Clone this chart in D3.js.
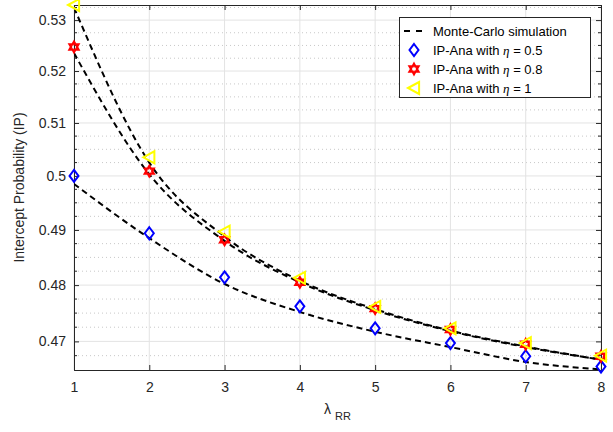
<!DOCTYPE html>
<html>
<head>
<meta charset="utf-8">
<script src="https://cdn.jsdelivr.net/npm/d3@7"></script>
<style>
  body { margin: 0; background: #fff; }
  svg { font-family: "Liberation Sans", Arial, sans-serif; }
  .tick-label { font-size: 14px; fill: #262626; }
  .axis-title { font-size: 14px; fill: #262626; }
  .legend-text { font-size: 13px; fill: #000; }
</style>
</head>
<body>
<svg id="chart" width="613" height="432"></svg>
<script>
// lambda_RR values (x axis)
const lambdaRR = [1, 2, 3, 4, 5, 6, 7, 8];

// Monte-Carlo simulation curves (dashed)
const mcEta05 = [0.4985, 0.4885, 0.4802, 0.4752, 0.4717, 0.4690, 0.4664, 0.4651];
const mcEta08 = [0.5235, 0.5003, 0.4880, 0.4805, 0.4755, 0.4718, 0.4690, 0.4668];
const mcEta1  = [0.5325, 0.5025, 0.4888, 0.4808, 0.4757, 0.4719, 0.4691, 0.4668];

// analytical markers
const anaEta05 = [0.5000, 0.4894, 0.4814, 0.4762, 0.4723, 0.4697, 0.4674, 0.4656];
const anaEta08 = [0.5247, 0.5009, 0.4882, 0.4805, 0.4758, 0.4721, 0.4695, 0.4674];
const anaEta1  = [0.5330, 0.5035, 0.4897, 0.4813, 0.4761, 0.4723, 0.4697, 0.4675];

// ticks
const xTicks = [1, 2, 3, 4, 5, 6, 7, 8];
const yTicks = [0.47, 0.48, 0.49, 0.5, 0.51, 0.52, 0.53];
const yMinorTicks = [0.4675, 0.4725, 0.475, 0.4775, 0.4825, 0.485, 0.4875, 0.4925, 0.495, 0.4975,
                     0.5025, 0.505, 0.5075, 0.5125, 0.515, 0.5175, 0.5225, 0.525, 0.5275, 0.5325];

const legendLabels = ["Monte-Carlo simulation", "IP-Ana with ", "IP-Ana with ", "IP-Ana with "];
const legendEta = [null, "0.5", "0.8", "1"];

const svg = d3.select("#chart");

// Plot area
const pLeft = 74, pRight = 601, pTop = 5, pBottom = 370;

const x = d3.scaleLinear().domain([1, 8]).range([pLeft, pRight]);
const y = d3.scaleLog().domain([0.465, 0.533]).range([pBottom, pTop]);

// clip for the curves
svg.append("defs").append("clipPath").attr("id", "clip")
  .append("rect").attr("x", pLeft).attr("y", pTop)
  .attr("width", pRight - pLeft).attr("height", pBottom - pTop);

// Minor dotted grid
svg.append("g").selectAll("line")
  .data(yMinorTicks).enter().append("line")
  .attr("x1", pLeft).attr("x2", pRight)
  .attr("y1", d => y(d)).attr("y2", d => y(d))
  .attr("stroke", "#c8c8c8").attr("stroke-width", 1)
  .attr("stroke-dasharray", "1,3");

// Major grid
svg.append("g").selectAll("line")
  .data(yTicks).enter().append("line")
  .attr("x1", pLeft).attr("x2", pRight)
  .attr("y1", d => y(d)).attr("y2", d => y(d))
  .attr("stroke", "#e3e3e3").attr("stroke-width", 1);
svg.append("g").selectAll("line")
  .data(xTicks).enter().append("line")
  .attr("x1", d => x(d)).attr("x2", d => x(d))
  .attr("y1", pTop).attr("y2", pBottom)
  .attr("stroke", "#e3e3e3").attr("stroke-width", 1);

// Axes with inward ticks
const axisColor = "#262626";
const axLeft = d3.axisLeft(y).tickValues(yTicks).tickSize(-5).tickFormat(d => String(+d.toFixed(2))).tickPadding(8);
const axRight = d3.axisRight(y).tickValues(yTicks).tickSize(-5).tickFormat("");
const axBottom = d3.axisBottom(x).tickValues(xTicks).tickSize(-5).tickFormat(d3.format("d")).tickPadding(12);
const axTop = d3.axisTop(x).tickValues(xTicks).tickSize(-5).tickFormat("");

function styleAxis(g) {
  g.select(".domain").attr("stroke", axisColor);
  g.selectAll(".tick line").attr("stroke", axisColor);
  g.selectAll(".tick text").attr("class", "tick-label").attr("font-family", null).attr("font-size", null);
}

svg.append("g").attr("transform", `translate(${pLeft},0)`).call(axLeft).call(styleAxis);
svg.append("g").attr("transform", `translate(${pRight},0)`).call(axRight).call(styleAxis);
svg.append("g").attr("transform", `translate(0,${pBottom})`).call(axBottom).call(styleAxis);
svg.append("g").attr("transform", `translate(0,${pTop})`).call(axTop).call(styleAxis);

// minor ticks left / right
[pLeft, pRight].forEach(px => {
  const dir = px === pLeft ? 1 : -1;
  svg.append("g").selectAll("line")
    .data(yMinorTicks).enter().append("line")
    .attr("x1", px).attr("x2", px + dir * 3)
    .attr("y1", d => y(d)).attr("y2", d => y(d))
    .attr("stroke", axisColor);
});

// Axis titles
svg.append("text")
  .attr("class", "axis-title")
  .attr("transform", `translate(24,${(pTop + pBottom) / 2}) rotate(-90)`)
  .attr("text-anchor", "middle")
  .text("Intercept Probability (IP)");

const xt = svg.append("text").attr("class", "axis-title")
  .attr("x", (pLeft + pRight) / 2).attr("y", 414).attr("text-anchor", "middle");
xt.append("tspan").text("λ");
xt.append("tspan").attr("dx", 4).attr("dy", 6).attr("font-size", 11).text("RR");

// Monte-Carlo dashed curves
const line = d3.line()
  .x((d, i) => x(lambdaRR[i]))
  .y(d => y(d))
  .curve(d3.curveMonotoneX);

[mcEta05, mcEta08, mcEta1].forEach(s => {
  svg.append("path")
    .datum(s)
    .attr("clip-path", "url(#clip)")
    .attr("fill", "none")
    .attr("stroke", "#000")
    .attr("stroke-width", 2)
    .attr("stroke-dasharray", "6,4")
    .attr("d", line);
});

// marker shapes
function diamondPath(r) {
  const w = r * 0.75;
  return `M0,${-r}L${w},0L0,${r}L${-w},0Z`;
}
function leftTriPath(r) {
  return `M${-r},0L${r * 0.85},${-r}L${r * 0.85},${r}Z`;
}
function hexagramPath(r) {
  const pts = [];
  const ri = r / Math.sqrt(3);
  for (let k = 0; k < 12; k++) {
    const a = -Math.PI / 2 + k * Math.PI / 6;
    const rr = k % 2 === 0 ? r : ri;
    pts.push([rr * Math.cos(a), rr * Math.sin(a)]);
  }
  return "M" + pts.map(p => p[0].toFixed(2) + "," + p[1].toFixed(2)).join("L") + "Z";
}

const markerSets = [
  { data: anaEta05, color: "#0000ff", path: diamondPath(6), sw: 2 },
  { data: anaEta08, color: "#ff0000", path: hexagramPath(5), sw: 2.4 },
  { data: anaEta1,  color: "#ffff00", path: leftTriPath(6), sw: 2 }
];

markerSets.forEach(m => {
  svg.append("g").selectAll("path")
    .data(m.data).enter().append("path")
    .attr("transform", (d, i) => `translate(${x(lambdaRR[i])},${y(d)})`)
    .attr("d", m.path)
    .attr("fill", "none")
    .attr("stroke", m.color)
    .attr("stroke-width", m.sw);
});

// Legend
const lg = svg.append("g");
lg.append("rect")
  .attr("x", 399.5).attr("y", 17.5).attr("width", 191).attr("height", 80)
  .attr("fill", "#fff").attr("stroke", axisColor).attr("stroke-width", 1);

const rowY = [31, 50, 69, 88];
legendLabels.forEach((lab, i) => {
  if (i === 0) {
    lg.append("line")
      .attr("x1", 404).attr("x2", 424).attr("y1", rowY[i]).attr("y2", rowY[i])
      .attr("stroke", "#000").attr("stroke-width", 2).attr("stroke-dasharray", "6,6");
  } else {
    const m = markerSets[i - 1];
    lg.append("path")
      .attr("transform", `translate(414,${rowY[i]})`)
      .attr("d", m.path)
      .attr("fill", "none").attr("stroke", m.color).attr("stroke-width", m.sw);
  }
  const t = lg.append("text").attr("class", "legend-text")
    .attr("x", 433).attr("y", rowY[i] + 5);
  t.append("tspan").text(lab);
  if (legendEta[i] !== null) {
    t.append("tspan").attr("font-family", "Liberation Serif").attr("font-style", "italic").text("η");
    t.append("tspan").text(" = " + legendEta[i]);
  }
});
</script>
</body>
</html>
